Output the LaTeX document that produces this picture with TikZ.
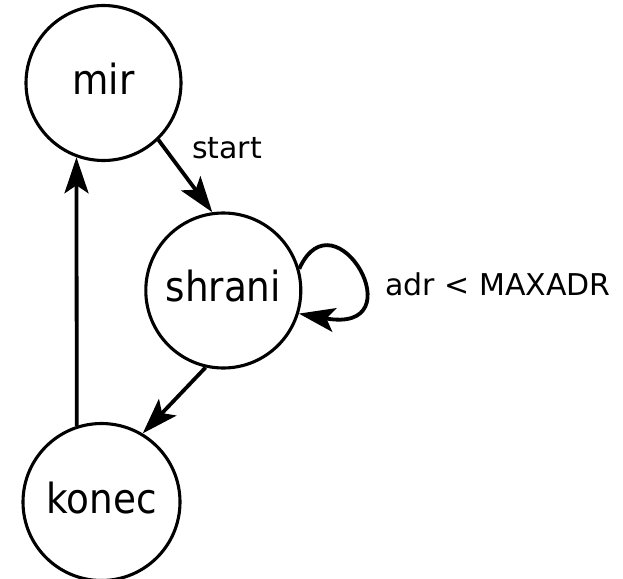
\documentclass[tikz,border=0pt]{standalone}
\usepackage{fontspec}
\setmainfont{DejaVu Sans}
\newfontfamily\condfont{DejaVu Sans Condensed}
\usetikzlibrary{arrows.meta}
\begin{document}
\begin{tikzpicture}[x=1pt,y=-1pt,
  state/.style={circle,draw,line width=3.1pt,minimum size=155pt,inner sep=0pt,
    text height=22.6pt,text depth=0pt,font=\condfont\fontsize{41.5}{50}\selectfont},
  edge/.style={line width=3.8pt,-{Stealth[length=36pt,width=24pt,inset=8pt]}},
  lbl/.style={anchor=base,inner sep=0pt,font=\fontsize{30}{36}\selectfont}]
\useasboundingbox (0,0) rectangle (623,578);
\node[state] (mir) at (103.5,83) {mir};
\node[state] (shrani) at (223.3,290.5) {shrani};
\node[state,minimum size=157pt] (konec) at (101.5,502) {konec};
\draw[edge] (mir.-46.3) -- (shrani.98.5);
\draw[edge] (shrani.-103.5) -- (konec.59.7);
\draw[edge] (konec.108) -- (mir.-110);
\draw[edge] (shrani.16) .. controls (335,190) and (418,335) .. (shrani.-17);
\node[lbl] (start) at (227,158.3) {start};
\node[lbl,anchor=base west] (cond) at (385,295) {adr < MAXADR};
\end{tikzpicture}
\end{document}
